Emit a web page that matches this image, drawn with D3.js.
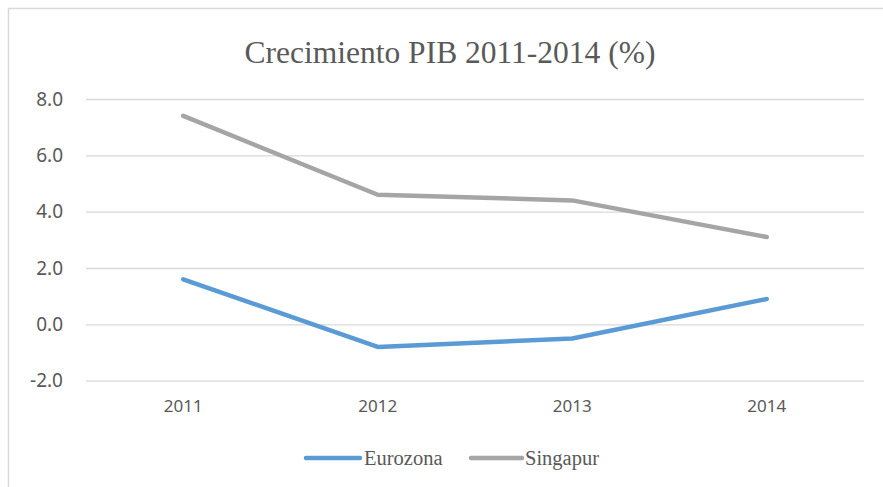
<!DOCTYPE html>
<html><head><meta charset="utf-8">
<script src="https://cdn.jsdelivr.net/npm/d3@7"></script>
<style>body{margin:0;background:#fff}</style>
</head><body>
<script>
const years = ["2011","2012","2013","2014"];
const eurozona = [1.6, -0.8, -0.5, 0.9];
const singapur = [7.4, 4.6, 4.4, 3.1];
const yTicks = [-2, 0, 2, 4, 6, 8];
const seriesNames = ["Eurozona", "Singapur"];
const seriesColors = ["#5B9BD5", "#A5A5A5"];

const W = 883, H = 487;
const svg = d3.select("body").append("svg").attr("width", W).attr("height", H);
svg.append("rect").attr("x", 0).attr("y", 0).attr("width", W).attr("height", H).attr("fill", "#fff");
svg.append("path").attr("d", "M8.5,500 L8.5,8.5 L900,8.5").attr("fill", "none").attr("stroke", "#D9D9D9").attr("stroke-width", 1.5);

const m = {left: 86, right: 864, top: 99, bottom: 380.7};
const x = d3.scaleBand().domain(years).range([m.left, m.right]);
const y = d3.scaleLinear().domain([-2, 8]).range([m.bottom, m.top]);

svg.append("text").attr("x", 450).attr("y", 63).attr("text-anchor", "middle")
  .attr("font-family", "Liberation Serif, Times New Roman, serif").attr("font-size", 31.5)
  .attr("fill", "#595959").text("Crecimiento PIB 2011-2014 (%)");

const fmt = d => d.toFixed(1);
const yAxis = d3.axisLeft(y).tickValues(yTicks).tickFormat(fmt).tickSize(-(m.right - m.left)).tickPadding(23);
const gy = svg.append("g").attr("transform", `translate(${m.left},0)`).call(yAxis);
gy.select(".domain").remove();
gy.selectAll(".tick line").attr("stroke", "#D9D9D9").attr("stroke-width", 1.3);
gy.selectAll(".tick text").attr("font-family", "Noto Sans, Open Sans, sans-serif").attr("font-size", 19).attr("fill", "#595959");

const xAxis = d3.axisBottom(x).tickSize(0).tickPadding(19);
const gx = svg.append("g").attr("transform", `translate(0,${m.bottom})`).call(xAxis);
gx.select(".domain").remove();
gx.selectAll(".tick text").attr("font-family", "Noto Sans, Open Sans, sans-serif").attr("font-size", 17).attr("fill", "#595959");

const line = d3.line().x((d, i) => x(years[i]) + x.bandwidth() / 2).y(d => y(d));
[eurozona, singapur].forEach((s, k) => {
  svg.append("path").datum(s).attr("d", line).attr("fill", "none")
    .attr("stroke", seriesColors[k]).attr("stroke-width", 4.5)
    .attr("stroke-linecap", "round").attr("stroke-linejoin", "round");
});

const leg = [{x0: 306, x1: 360, tx: 364}, {x0: 471, x1: 522, tx: 525}];
seriesNames.forEach((n, k) => {
  svg.append("line").attr("x1", leg[k].x0).attr("x2", leg[k].x1).attr("y1", 458).attr("y2", 458)
    .attr("stroke", seriesColors[k]).attr("stroke-width", 4.5).attr("stroke-linecap", "round");
  svg.append("text").attr("x", leg[k].tx).attr("y", 465)
    .attr("font-family", "Liberation Serif, Times New Roman, serif").attr("font-size", 20.5)
    .attr("fill", "#595959").text(n);
});
</script>
</body></html>
